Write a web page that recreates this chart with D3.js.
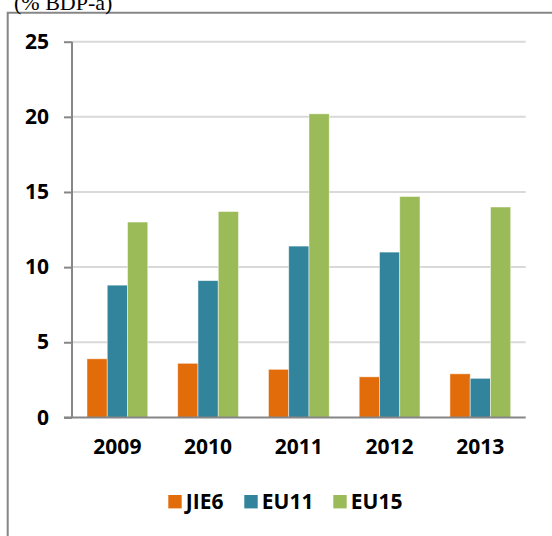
<!DOCTYPE html>
<html>
<head>
<meta charset="utf-8">
<script src="https://cdn.jsdelivr.net/npm/d3@7"></script>
<style>
  body { margin: 0; background: #fff; }
  svg { display: block; }
</style>
</head>
<body>
<div id="chart"></div>
<script>
// chart data
const years = ["2009", "2010", "2011", "2012", "2013"];
const seriesNames = ["JIE6", "EU11", "EU15"];
const jie6 = [3.9, 3.6, 3.2, 2.7, 2.9];
const eu11 = [8.8, 9.1, 11.4, 11.0, 2.6];
const eu15 = [13.0, 13.7, 20.2, 14.7, 14.0];
const yTicks = [0, 5, 10, 15, 20, 25];
const colors = ["#E36C0A", "#31849B", "#9BBB59"];

const width = 552, height = 536;
const plot = {left: 72, right: 525.7, top: 41.7, bottom: 417.4};
const labelFont = "'Open Sans', Lato, sans-serif";

let svg = d3.select("#chart").append("svg")
    .attr("width", width)
    .attr("height", height);

// outer frame (right/bottom edges fall outside the picture)
svg.append("path")
    .attr("d", "M7.7," + height + "V12.8H" + width)
    .attr("fill", "none")
    .attr("stroke", "#868686")
    .attr("stroke-width", 2);

svg.append("text")
    .attr("x", 14)
    .attr("y", 9.5)
    .attr("font-family", "'Liberation Serif', 'Times New Roman', serif")
    .attr("font-size", 22)
    .attr("fill", "#000")
    .text("(% BDP-a)");

let yScale = d3.scaleLinear()
    .domain([0, 25])
    .range([plot.bottom, plot.top]);

let xScale = d3.scaleBand()
    .domain(years)
    .range([plot.left, plot.right])
    .paddingInner(0.33)
    .paddingOuter(0.165);

let xInner = d3.scaleBand()
    .domain(seriesNames)
    .range([0, xScale.bandwidth()]);

// gridlines
svg.append("g")
    .selectAll("line")
    .data(yTicks.filter(d => d > 0))
    .enter().append("line")
    .attr("x1", plot.left)
    .attr("x2", plot.right)
    .attr("y1", d => yScale(d))
    .attr("y2", d => yScale(d))
    .attr("stroke", "#d9d9d9")
    .attr("stroke-width", 2);

// bars
let rows = years.map((y, i) => ({year: y, vals: [jie6[i], eu11[i], eu15[i]]}));
let groups = svg.append("g").selectAll("g")
    .data(rows)
    .enter().append("g")
    .attr("transform", d => "translate(" + xScale(d.year) + ",0)");

groups.selectAll("rect")
    .data(d => d.vals.map((v, k) => ({name: seriesNames[k], value: v, k: k})))
    .enter().append("rect")
    .attr("x", d => xInner(d.name))
    .attr("y", d => yScale(d.value))
    .attr("width", xInner.bandwidth())
    .attr("height", d => yScale(0) - yScale(d.value))
    .attr("fill", d => colors[d.k])
    .attr("stroke", "rgba(255,255,255,0.6)")
    .attr("stroke-width", 0.8);

// y axis
let yAxis = svg.append("g")
    .attr("transform", "translate(" + plot.left + ",0)")
    .call(d3.axisLeft(yScale).tickValues(yTicks).tickSize(8).tickPadding(15));
yAxis.select(".domain").attr("stroke", "#868686").attr("stroke-width", 2)
    .attr("d", "M0," + plot.top + "V" + plot.bottom);
yAxis.selectAll(".tick line").attr("stroke", "#868686").attr("stroke-width", 2);
yAxis.selectAll(".tick text")
    .attr("font-family", labelFont)
    .attr("font-weight", "bold")
    .attr("font-size", 21)
    .attr("fill", "#000");

// x axis
let xAxis = svg.append("g")
    .attr("transform", "translate(0," + plot.bottom + ")")
    .call(d3.axisBottom(xScale).tickSize(0).tickPadding(22));
xAxis.select(".domain").attr("stroke", "#868686").attr("stroke-width", 2)
    .attr("d", "M" + (plot.left - 8) + ",0H" + plot.right);
xAxis.selectAll(".tick text")
    .attr("font-family", labelFont)
    .attr("font-weight", "bold")
    .attr("font-size", 21)
    .attr("fill", "#000");

// legend
const legendX = [168.3, 244.3, 333.3];
let legend = svg.append("g").selectAll("g")
    .data(seriesNames)
    .enter().append("g")
    .attr("transform", (d, i) => "translate(" + legendX[i] + ",495)");
legend.append("rect")
    .attr("width", 13.4)
    .attr("height", 13.4)
    .attr("fill", (d, i) => colors[i]);
legend.append("text")
    .attr("x", 17.5)
    .attr("y", 14)
    .attr("font-family", labelFont)
    .attr("font-weight", "bold")
    .attr("font-size", 21)
    .attr("fill", "#000")
    .text(d => d);
</script>
</body>
</html>
